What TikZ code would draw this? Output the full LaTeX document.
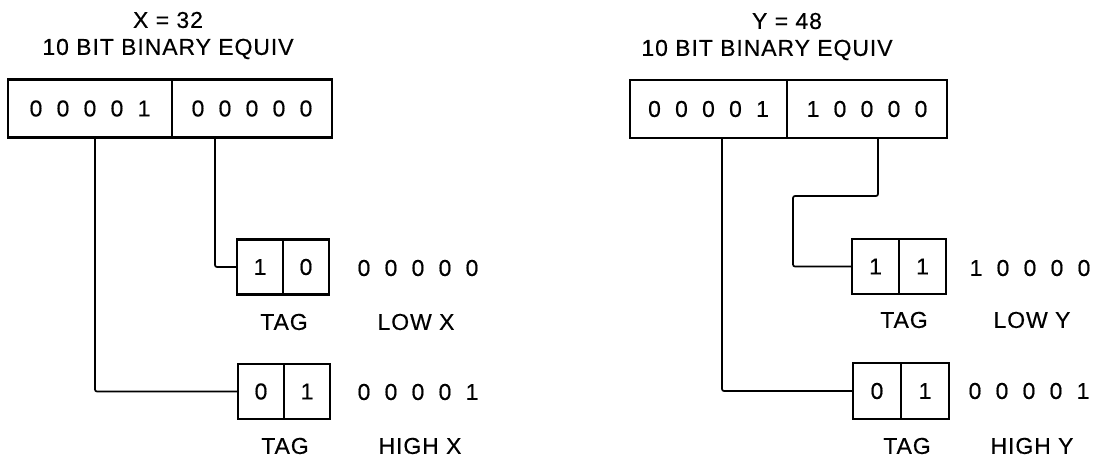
\documentclass[tikz,border=0pt]{standalone}
\usepackage{fontspec}
\setmainfont[LetterSpace=4,FakeBold=0.4]{Liberation Sans}
\newcommand{\bitrow}[5]{\makebox[27pt]{#1}\makebox[27pt]{#2}\makebox[27pt]{#3}\makebox[27pt]{#4}\makebox[27pt]{#5}}
\tikzset{
  txt/.style={inner sep=0pt, font=\fontsize{23}{27}\selectfont},
  cell/.style={draw, line width=2.2pt, inner sep=0pt, minimum height=55pt, minimum width=46pt, font=\fontsize{23}{27}\selectfont},
  word/.style={draw, line width=2.2pt, inner sep=0pt, minimum height=58pt, font=\fontsize{23}{27}\selectfont},
  wire/.style={line width=1.7pt, rounded corners=2pt}
}
\begin{document}
\begin{tikzpicture}[x=1pt,y=-1pt]
\useasboundingbox (0,0) rectangle (1096,457);
% ---------- left: X = 32 ----------
\node[txt] (xt1) at (168,20) {X = 32};
\node[txt] (xt2) at (168,49) {10 BIT BINARY EQUIV};
\node[word, minimum width=164pt] (bxh) at (90,108.5) {\bitrow00001};
\node[word, minimum width=160pt] (bxl) at (252,108.5) {\bitrow00000};
\node[cell] (txl1) at (260,267) {1};
\node[cell] (txl2) at (306,267) {0};
\node[txt] (vxl) at (418,268) {\bitrow00000};
\node[txt] (tagxl) at (284,322) {TAG};
\node[txt] (lowx) at (416,322) {LOW X};
\node[cell] (txh1) at (261,391.5) {0};
\node[cell] (txh2) at (307,391.5) {1};
\node[txt] (vxh) at (418,392) {\bitrow00001};
\node[txt] (tagxh) at (285,446) {TAG};
\node[txt] (highx) at (420,446) {HIGH X};
\draw[wire] ([xshift=5pt]bxh.south) |- (txh1.west);
\draw[wire] ([xshift=-37pt]bxl.south) |- (txl1.west);
% ---------- right: Y = 48 ----------
\node[txt] (yt1) at (787,21) {Y = 48};
\node[txt] (yt2) at (767,50) {10 BIT BINARY EQUIV};
\node[word, minimum width=157pt] (byh) at (708.5,109) {\bitrow00001};
\node[word, minimum width=160pt] (byl) at (867,109) {\bitrow10000};
\node[cell, minimum width=47pt] (tyl1) at (875.5,266.5) {1};
\node[cell, minimum width=47pt] (tyl2) at (922.5,266.5) {1};
\node[txt] (vyl) at (1030,268) {\bitrow10000};
\node[txt] (tagyl) at (904,320) {TAG};
\node[txt] (lowy) at (1032,320) {LOW Y};
\node[cell, minimum width=48pt, minimum height=56pt] (tyh1) at (877,391) {0};
\node[cell, minimum width=48pt, minimum height=56pt] (tyh2) at (925,391) {1};
\node[txt] (vyh) at (1029,391) {\bitrow00001};
\node[txt] (tagyh) at (907,446) {TAG};
\node[txt] (highy) at (1032,446) {HIGH Y};
\coordinate (jog) at (793,196);
\draw[wire] ([xshift=13.5pt]byh.south) |- (tyh1.west);
\draw[wire] ([xshift=11pt]byl.south) |- (jog) |- (tyl1.west);
\end{tikzpicture}
\end{document}
